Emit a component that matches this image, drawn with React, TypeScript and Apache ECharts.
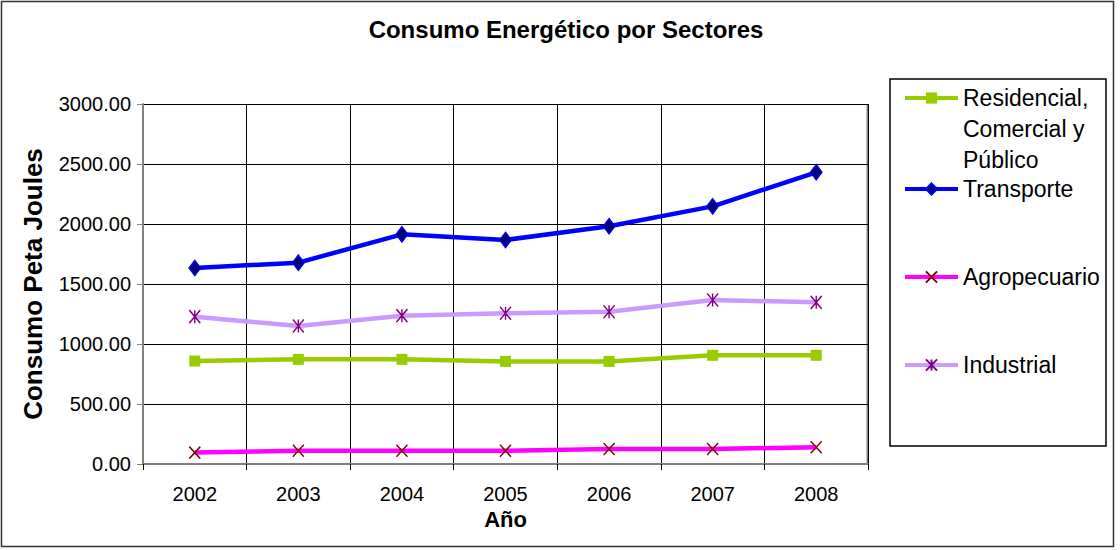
import React, { useEffect, useRef } from 'react';
import * as echarts from 'echarts';

const years = ['2002', '2003', '2004', '2005', '2006', '2007', '2008'];
const residencial = [858, 872, 872, 855, 855, 906, 906];
const transporte = [1633, 1678, 1914, 1867, 1981, 2147, 2431];
const agropecuario = [95, 110, 110, 110, 125, 125, 140];
const industrial = [1228, 1150, 1236, 1256, 1269, 1367, 1347];

const names = ['Residencial, Comercial y Público', 'Transporte', 'Agropecuario', 'Industrial'];
const legendLabels = [' \n \nResidencial,\nComercial y\nPúblico', 'Transporte', 'Agropecuario', 'Industrial'];

const FONT = '"Liberation Sans", Arial, sans-serif';

const X_PATH = 'path://M0,0L10,10M10,0L0,10';
const STAR_PATH = 'path://M0,0L10,10M10,0L0,10M5,0L5,10';

export default function App() {
  const ref = useRef<HTMLDivElement>(null);
  useEffect(() => {
    if (!ref.current) return;
    const chart = echarts.init(ref.current, null, { renderer: 'svg' });
    const legendTops = [20.5, 173.5, 261.5, 349.5];
    const legends = names.map((n, i) => ({
      orient: 'vertical',
      left: 903,
      top: legendTops[i],
      padding: 0,
      itemWidth: 53,
      itemHeight: 14,
      data: [n],
      formatter: () => legendLabels[i],
      lineStyle: { width: 4 },
      textStyle: {
        fontFamily: FONT,
        fontSize: 23,
        color: '#000',
        lineHeight: 31,
      },
    }));
    chart.setOption({
      animation: false,
      backgroundColor: '#fff',
      title: {
        text: 'Consumo Energético por Sectores',
        left: 561,
        textAlign: 'center',
        top: 12,
        textStyle: { fontFamily: FONT, fontSize: 24, fontWeight: 'bold', color: '#000' },
      },
      legend: legends,
      grid: { left: 143, top: 104, right: 252, bottom: 86, containLabel: false },
      xAxis: {
        type: 'category',
        data: years,
        boundaryGap: true,
        name: 'Año',
        nameLocation: 'middle',
        nameGap: 44,
        nameTextStyle: { fontFamily: FONT, fontSize: 22, fontWeight: 'bold', color: '#000' },
        axisLine: { lineStyle: { color: '#808080', width: 2 } },
        axisTick: { show: true, length: 6, lineStyle: { color: '#000', width: 1 } },
        axisLabel: { fontFamily: FONT, fontSize: 20, color: '#000', margin: 20 },
        splitLine: { show: true, lineStyle: { color: '#000', width: 1 } },
      },
      yAxis: {
        type: 'value',
        min: 0,
        max: 3000,
        interval: 500,
        name: 'Consumo Peta Joules',
        nameLocation: 'middle',
        nameGap: 97,
        nameTextStyle: { fontFamily: FONT, fontSize: 26, fontWeight: 'bold', color: '#000' },
        axisLine: { show: true, lineStyle: { color: '#808080', width: 2 } },
        axisTick: { show: true, length: 6, lineStyle: { color: '#808080', width: 1 } },
        axisLabel: {
          fontFamily: FONT,
          fontSize: 20,
          color: '#000',
          margin: 12,
          formatter: (v: number) => v.toFixed(2),
        },
        splitLine: { show: true, lineStyle: { color: '#000', width: 1 } },
      },
      graphic: [
        {
          type: 'rect',
          shape: { x: 1.5, y: 1.5, width: 1112, height: 545 },
          style: { fill: 'none', stroke: '#333', lineWidth: 1.5 },
          silent: true,
        },
        {
          type: 'rect',
          shape: { x: 890, y: 79, width: 216, height: 367 },
          style: { fill: 'none', stroke: '#000', lineWidth: 1.5 },
          silent: true,
        },
        {
          type: 'line',
          shape: { x1: 867.5, y1: 104, x2: 867.5, y2: 464 },
          style: { stroke: '#808080', lineWidth: 2 },
          silent: true,
        },
      ],
      series: [
        {
          name: names[0],
          type: 'line',
          data: residencial,
          symbol: 'rect',
          symbolSize: 11,
          lineStyle: { color: '#99CC00', width: 4.5 },
          itemStyle: { color: '#99CC00' },
        },
        {
          name: names[1],
          type: 'line',
          data: transporte,
          symbol: 'diamond',
          symbolSize: [12, 16],
          lineStyle: { color: '#0000FF', width: 4.5 },
          itemStyle: { color: '#000080', borderColor: '#0000FF', borderWidth: 1 },
        },
        {
          name: names[2],
          type: 'line',
          data: agropecuario,
          symbol: X_PATH,
          symbolSize: [11, 12],
          lineStyle: { color: '#FF00FF', width: 4.5 },
          itemStyle: { color: 'rgba(0,0,0,0)', borderColor: '#800000', borderWidth: 1.5 },
        },
        {
          name: names[3],
          type: 'line',
          data: industrial,
          symbol: STAR_PATH,
          symbolSize: [11, 13],
          lineStyle: { color: '#CC99FF', width: 4.5 },
          itemStyle: { color: 'rgba(0,0,0,0)', borderColor: '#800080', borderWidth: 1.5 },
        },
      ],
    });
    return () => chart.dispose();
  }, []);
  return (
    <div
      ref={ref}
      style={{ position: 'fixed', left: 0, top: 0, width: 1120, height: 550 }}
    />
  );
}
